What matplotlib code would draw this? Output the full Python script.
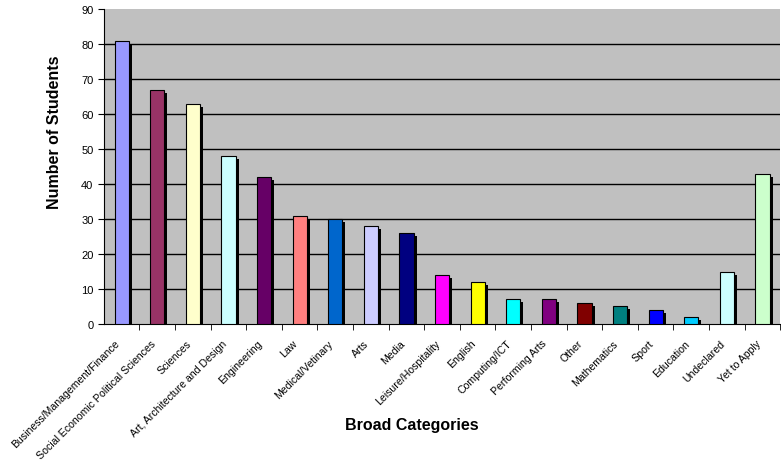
import matplotlib.pyplot as plt
import matplotlib.transforms as mtransforms
import numpy as np

categories = [
    "Business/Management/Finance", "Social Economic Political Sciences", "Sciences",
    "Art, Architecture and Design", "Engineering", "Law", "Medical/Vetinary", "Arts",
    "Media", "Leisure/Hospitality", "English", "Computing/ICT", "Performing Arts",
    "Other", "Mathematics", "Sport", "Education", "Undeclared", "Yet to Apply",
]
students = [81, 67, 63, 48, 42, 31, 30, 28, 26, 14, 12, 7, 7, 6, 5, 4, 2, 15, 43]
colors = [
    "#9999FF", "#993366", "#FFFFCC", "#CCFFFF", "#660066", "#FF8080", "#0066CC",
    "#CCCCFF", "#000080", "#FF00FF", "#FFFF00", "#00FFFF", "#800080", "#800000",
    "#008080", "#0000FF", "#00CCFF", "#CCFFFF", "#CCFFCC",
]
yticks = list(range(0, 91, 10))

fig = plt.figure(figsize=(7.81, 4.64), dpi=100)
ax = fig.add_axes([0.133, 0.2996, 0.866, 0.6786])
ax.set_facecolor("#C0C0C0")

x = np.arange(len(categories))
width = 0.4

# horizontal grid lines (none at the top edge)
for v in yticks[1:-1]:
    ax.axhline(v, color="black", linewidth=1, zorder=1)

# shadow behind each bar, shifted a few pixels right and down
shift = mtransforms.ScaledTranslation(3 / 100, -3 / 100, fig.dpi_scale_trans)
ax.bar(x, students, width=width, color="black", zorder=2,
       transform=ax.transData + shift)
ax.bar(x, students, width=width, color=colors, edgecolor="black",
       linewidth=0.8, zorder=3)

ax.set_xlim(-0.5, len(categories) - 0.5)
ax.set_ylim(0, 90)
ax.set_yticks(yticks)

ax.set_xticks(x)
ax.tick_params(axis="x", which="major", length=0, pad=10)
ax.set_xticks(np.arange(len(categories)) + 0.5, minor=True)
ax.tick_params(axis="x", which="minor", length=4, direction="out")
ax.set_xticklabels(categories, rotation=45, ha="right", rotation_mode="anchor",
                   fontsize=7.6, family="Liberation Sans")
label_shift = mtransforms.ScaledTranslation(-7 / 100, 0, fig.dpi_scale_trans)
for lab in ax.get_xticklabels():
    lab.set_transform(lab.get_transform() + label_shift)
ax.tick_params(axis="y", labelsize=8, length=4, direction="out")
for lab in ax.get_yticklabels():
    lab.set_family("Liberation Sans")

for side in ["top", "right"]:
    ax.spines[side].set_visible(False)

fig.text(55 / 781, 1 - 132 / 464, "Number of Students", rotation=90,
         ha="center", va="center", fontsize=11.5, fontweight="bold",
         family="Liberation Sans")
fig.text(412 / 781, 1 - 426 / 464, "Broad Categories", ha="center",
         va="center", fontsize=11.5, fontweight="bold", family="Liberation Sans")

fig.savefig("out.png", dpi=100)
